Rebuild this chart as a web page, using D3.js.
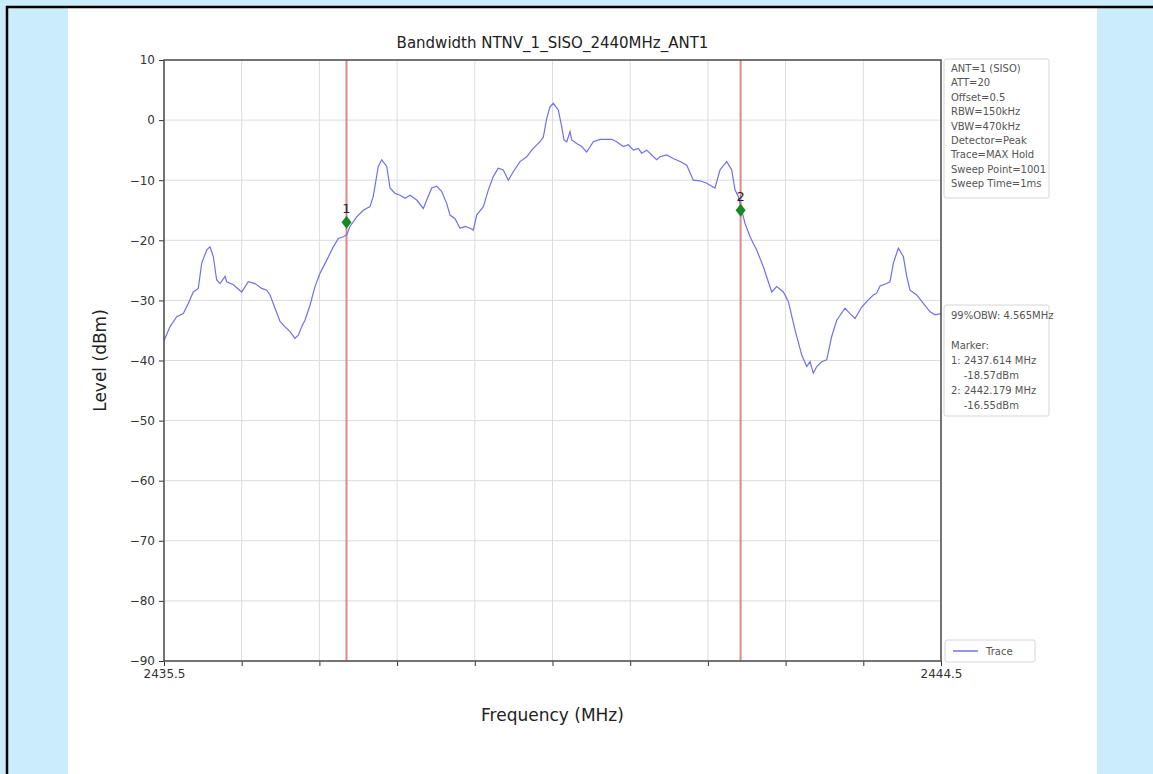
<!DOCTYPE html>
<html><head><meta charset="utf-8">
<script src="https://cdn.jsdelivr.net/npm/d3@7"></script>
<style>
html,body{margin:0;padding:0;background:#cbecfa;}
svg{display:block;font-family:"DejaVu Sans",sans-serif;}
</style></head>
<body>
<svg id="c" width="1153" height="774"></svg>
<script>
// ---- data ----
const title = "Bandwidth NTNV_1_SISO_2440MHz_ANT1";
const freqs = [2435.5,2435.512,2435.569,2435.647,2435.724,2435.781,2435.839,2435.897,2435.937,2435.995,2436.033,2436.071,2436.110,2436.149,2436.207,2436.226,2436.303,2436.400,2436.476,2436.554,2436.632,2436.690,2436.728,2436.786,2436.844,2436.902,2436.959,2437.017,2437.056,2437.095,2437.133,2437.191,2437.249,2437.307,2437.385,2437.461,2437.519,2437.577,2437.616,2437.654,2437.732,2437.809,2437.886,2437.924,2437.982,2438.022,2438.080,2438.118,2438.176,2438.234,2438.292,2438.350,2438.427,2438.504,2438.543,2438.601,2438.659,2438.717,2438.775,2438.813,2438.871,2438.929,2438.987,2439.045,2439.083,2439.122,2439.199,2439.257,2439.314,2439.372,2439.430,2439.488,2439.546,2439.624,2439.701,2439.759,2439.855,2439.894,2439.933,2439.971,2440.009,2440.067,2440.107,2440.133,2440.165,2440.203,2440.223,2440.280,2440.338,2440.396,2440.473,2440.550,2440.686,2440.744,2440.820,2440.878,2440.936,2440.994,2441.033,2441.091,2441.149,2441.207,2441.245,2441.323,2441.399,2441.477,2441.555,2441.631,2441.708,2441.786,2441.882,2441.940,2442.018,2442.076,2442.114,2442.152,2442.172,2442.230,2442.288,2442.365,2442.442,2442.539,2442.597,2442.674,2442.732,2442.809,2442.887,2442.945,2442.983,2443.021,2443.061,2443.118,2443.176,2443.234,2443.292,2443.388,2443.446,2443.504,2443.582,2443.658,2443.716,2443.755,2443.794,2443.871,2443.909,2443.948,2444.006,2444.064,2444.103,2444.141,2444.219,2444.295,2444.373,2444.431,2444.5];
const levels = [-36.8,-36.3,-34.4,-32.7,-32.2,-30.5,-28.6,-28.0,-23.8,-21.6,-21.1,-22.7,-26.6,-27.2,-26.0,-26.9,-27.4,-28.6,-26.9,-27.2,-28.0,-28.3,-29.1,-31.3,-33.5,-34.4,-35.2,-36.3,-35.8,-34.4,-33.3,-30.8,-27.7,-25.5,-23.3,-21.1,-19.7,-19.4,-19.1,-17.7,-16.1,-15.0,-14.4,-12.7,-7.7,-6.6,-7.7,-11.3,-12.2,-12.5,-13.0,-12.5,-13.3,-14.7,-13.3,-11.3,-11.0,-11.9,-13.9,-15.8,-16.4,-18.0,-17.7,-18.0,-18.3,-15.8,-14.4,-11.6,-9.4,-8.0,-8.3,-10.0,-8.6,-6.9,-6.1,-5.0,-3.6,-2.8,0.3,2.2,2.8,1.7,-1.1,-3.3,-3.6,-1.9,-3.3,-3.9,-4.4,-5.3,-3.6,-3.2,-3.2,-3.6,-4.4,-4.1,-5.0,-4.7,-5.5,-5.0,-5.8,-6.6,-6.1,-5.8,-6.4,-6.9,-7.5,-10.0,-10.1,-10.5,-11.3,-8.3,-6.9,-8.3,-11.6,-12.7,-13.9,-17.2,-19.4,-21.6,-24.4,-28.6,-27.7,-28.6,-30.2,-34.9,-39.1,-41.0,-40.2,-42.1,-41.0,-40.2,-39.9,-36.0,-33.3,-31.3,-32.2,-33.0,-31.1,-29.9,-29.1,-28.8,-27.6,-27.2,-26.9,-23.8,-21.3,-22.7,-26.0,-28.3,-29.1,-30.5,-31.9,-32.4,-32.2];
const markerFreqs = [2437.614, 2442.179];
const markerPlotLevels = [-17.0, -15.0];
const markerLabels = ["1", "2"];
const yTicks = [10,0,-10,-20,-30,-40,-50,-60,-70,-80,-90];
const xTicks = [2435.5,2436.4,2437.3,2438.2,2439.1,2440.0,2440.9,2441.8,2442.7,2443.6,2444.5];
const xTickLabels = ["2435.5","","","","","","","","","","2444.5"];
const infoLines = ["ANT=1 (SISO)","ATT=20","Offset=0.5","RBW=150kHz","VBW=470kHz","Detector=Peak","Trace=MAX Hold","Sweep Point=1001","Sweep Time=1ms"];
const resultLines = ["99%OBW: 4.565MHz","","Marker:","1: 2437.614 MHz","    -18.57dBm","2: 2442.179 MHz","    -16.55dBm"];
const legendLabel = "Trace";

// ---- drawing ----
const svg = d3.select("#c");
const W = 1153, H = 774;
svg.append("rect").attr("x",0).attr("y",0).attr("width",W).attr("height",H).attr("fill","#cbecfa");
svg.append("rect").attr("x",68).attr("y",8).attr("width",1029).attr("height",H-8).attr("fill","#fff");
svg.append("line").attr("x1",6).attr("x2",W).attr("y1",7).attr("y2",7).attr("stroke","#000").attr("stroke-width",2.5);
svg.append("line").attr("x1",7).attr("x2",7).attr("y1",6).attr("y2",H).attr("stroke","#000").attr("stroke-width",2.5);

const L = 164, R = 941, T = 60, B = 661;
const x = d3.scaleLinear().domain([2435.5, 2444.5]).range([L, R]);
const y = d3.scaleLinear().domain([-90, 10]).range([B, T]);

const g = svg.append("g");
g.selectAll(".gx").data(xTicks).enter().append("line")
  .attr("x1",d=>x(d)).attr("x2",d=>x(d)).attr("y1",T).attr("y2",B)
  .attr("stroke","#dcdcdc").attr("stroke-width",1);
g.selectAll(".gy").data(yTicks).enter().append("line")
  .attr("x1",L).attr("x2",R).attr("y1",d=>y(d)).attr("y2",d=>y(d))
  .attr("stroke","#dcdcdc").attr("stroke-width",1);

g.selectAll(".mv").data(markerFreqs).enter().append("line")
  .attr("x1",d=>x(d)).attr("x2",d=>x(d)).attr("y1",T).attr("y2",B)
  .attr("stroke","#e58585").attr("stroke-width",2);

const pts = freqs.map((f,i)=>[f, levels[i]]);
g.append("path").datum(pts)
  .attr("d", d3.line().x(d=>x(d[0])).y(d=>y(d[1])))
  .attr("fill","none").attr("stroke","#7070ee").attr("stroke-width",1.2);

markerFreqs.forEach((f,i)=>{
  const cx = x(f), cy = y(markerPlotLevels[i]);
  g.append("path").attr("d",`M${cx},${cy-6.5} L${cx+5},${cy} L${cx},${cy+6.5} L${cx-5},${cy} Z`)
    .attr("fill","#168a22");
  g.append("text").attr("x",cx).attr("y",cy-9).attr("text-anchor","middle")
    .attr("font-size",13).attr("fill","#222").text(markerLabels[i]);
});

const xAxis = d3.axisBottom(x).tickValues(xTicks).tickFormat((d,i)=>xTickLabels[i]).tickSizeOuter(0).tickSize(5).tickPadding(3);
const gx = svg.append("g").attr("transform",`translate(0,${B})`).call(xAxis);
const yAxis = d3.axisLeft(y).tickValues(yTicks).tickFormat(d=>d<0?"\u2212"+Math.abs(d):String(d)).tickSizeOuter(0).tickSize(5).tickPadding(4);
const gy = svg.append("g").attr("transform",`translate(${L},0)`).call(yAxis);
[gx,gy].forEach(a=>{
  a.select(".domain").remove();
  a.selectAll(".tick line").attr("stroke","#333").attr("stroke-width",1);
  a.selectAll(".tick text").attr("font-family","DejaVu Sans").attr("font-size",12).attr("fill","#333");
});
svg.append("rect").attr("x",L).attr("y",T).attr("width",R-L).attr("height",B-T)
  .attr("fill","none").attr("stroke","#555").attr("stroke-width",1.6);

svg.append("text").attr("x",(L+R)/2).attr("y",T-12).attr("text-anchor","middle")
  .attr("font-size",15).attr("fill","#222").text(title);
svg.append("text").attr("x",(L+R)/2).attr("y",721).attr("text-anchor","middle")
  .attr("font-size",17).attr("fill","#222").text("Frequency (MHz)");
svg.append("text").attr("transform",`translate(106,${(T+B)/2}) rotate(-90)`).attr("text-anchor","middle")
  .attr("font-size",17).attr("fill","#222").text("Level (dBm)");

function box(x0,y0,w,h,lines,step,first){
  svg.append("rect").attr("x",x0).attr("y",y0).attr("width",w).attr("height",h)
    .attr("fill","#fff").attr("stroke","#d6d6d6").attr("stroke-width",1).attr("rx",2);
  svg.append("g").selectAll("text").data(lines).enter().append("text")
    .attr("x",x0+7).attr("y",(d,i)=>y0+first+i*step)
    .attr("font-size",10).attr("fill","#555").attr("xml:space","preserve")
    .style("white-space","pre").text(d=>d);
}
box(944,59,105,139,infoLines,14.4,13);
box(944,305,105,111,resultLines,15,14);

svg.append("rect").attr("x",945).attr("y",640).attr("width",90).attr("height",22)
  .attr("fill","#fff").attr("stroke","#d6d6d6").attr("rx",2);
svg.append("line").attr("x1",953).attr("x2",978).attr("y1",651).attr("y2",651)
  .attr("stroke","#7070ee").attr("stroke-width",1.5);
svg.append("text").attr("x",986).attr("y",655).attr("font-size",10).attr("fill","#555").text(legendLabel);
</script>
</body></html>
